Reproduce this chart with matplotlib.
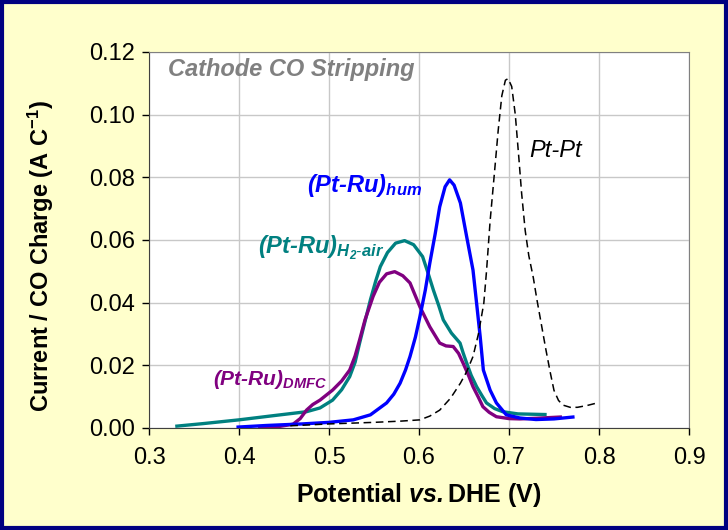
import matplotlib
matplotlib.use("Agg")
import matplotlib.pyplot as plt
from matplotlib.patches import Rectangle

plt.rcParams['font.family'] = ['Liberation Sans', 'DejaVu Sans']
plt.rcParams['mathtext.fontset'] = 'custom'
plt.rcParams['mathtext.rm'] = 'Liberation Sans'
plt.rcParams['mathtext.it'] = 'Liberation Sans:italic'
plt.rcParams['mathtext.bf'] = 'Liberation Sans:bold'
plt.rcParams['mathtext.bfit'] = 'Liberation Sans:italic:bold'

# Pt-Pt (dashed black)
ptpt_x = [0.457, 0.500, 0.550, 0.580, 0.601, 0.612, 0.623, 0.635, 0.646, 0.653, 0.660, 0.666,
          0.672, 0.675, 0.679, 0.684, 0.688, 0.692, 0.696, 0.699, 0.703, 0.707, 0.711, 0.714,
          0.718, 0.722, 0.727, 0.731, 0.736, 0.741, 0.746, 0.750, 0.755, 0.760, 0.768, 0.776,
          0.787, 0.798]
ptpt_y = [0.0007, 0.0013, 0.0018, 0.0022, 0.0026, 0.0038, 0.0057, 0.0095, 0.0143, 0.018, 0.0228, 0.030,
          0.0398, 0.050, 0.066, 0.082, 0.095, 0.106, 0.111, 0.1115, 0.109, 0.100, 0.086, 0.075,
          0.063, 0.055, 0.048, 0.041, 0.033, 0.025, 0.0175, 0.012, 0.0088, 0.0073, 0.0066, 0.0066,
          0.0072, 0.008]

# (Pt-Ru)hum (blue)
hum_x = [0.399, 0.430, 0.470, 0.500, 0.527, 0.546, 0.564, 0.572, 0.579, 0.585, 0.590, 0.596,
         0.601, 0.607, 0.612, 0.618, 0.623, 0.629, 0.634, 0.639, 0.646, 0.653, 0.660, 0.664,
         0.668, 0.6715, 0.679, 0.686, 0.697, 0.712, 0.730, 0.750, 0.771]
hum_y = [0.0003, 0.0008, 0.0013, 0.0018, 0.0026, 0.0042, 0.0080, 0.0108, 0.0143, 0.0185, 0.0228, 0.029,
         0.0355, 0.044, 0.0526, 0.062, 0.0706, 0.077, 0.0792, 0.0775, 0.0718, 0.061, 0.0504, 0.0398,
         0.0291, 0.0185, 0.0121, 0.0080, 0.0042, 0.0032, 0.0027, 0.0029, 0.0035]

# (Pt-Ru)H2-air (teal)
air_x = [0.331, 0.360, 0.400, 0.440, 0.475, 0.490, 0.504, 0.514, 0.523, 0.529, 0.534, 0.540,
         0.546, 0.552, 0.557, 0.565, 0.574, 0.584, 0.594, 0.604, 0.610, 0.616, 0.622, 0.627,
         0.636, 0.6456, 0.649, 0.653, 0.658, 0.664, 0.670, 0.675, 0.684, 0.693, 0.710, 0.740]
air_y = [0.0006, 0.0014, 0.0026, 0.0040, 0.0052, 0.0064, 0.0089, 0.0122, 0.0164, 0.021, 0.0271, 0.034,
         0.0409, 0.047, 0.0515, 0.056, 0.0590, 0.0598, 0.0585, 0.0547, 0.0495, 0.044, 0.039, 0.0345,
         0.0303, 0.0271, 0.024, 0.0207, 0.0168, 0.0132, 0.0103, 0.0080, 0.0062, 0.0052, 0.0045, 0.0043]

# (Pt-Ru)DMFC (purple)
dmfc_x = [0.423, 0.445, 0.460, 0.468, 0.475, 0.482, 0.490, 0.504, 0.514, 0.523, 0.529, 0.534,
          0.540, 0.549, 0.556, 0.564, 0.573, 0.582, 0.590, 0.601, 0.612, 0.623, 0.630, 0.638,
          0.644, 0.649, 0.655, 0.660, 0.666, 0.671, 0.678, 0.686, 0.700, 0.712, 0.730, 0.757]
dmfc_y = [0.0003, 0.0005, 0.0012, 0.0030, 0.0057, 0.0075, 0.0089, 0.0121, 0.0150, 0.0185, 0.023, 0.0281,
          0.0345, 0.042, 0.0465, 0.0492, 0.0499, 0.0486, 0.0463, 0.0387, 0.0323, 0.0271, 0.0262, 0.026,
          0.0238, 0.0207, 0.0168, 0.0132, 0.0098, 0.0068, 0.0050, 0.0036, 0.0030, 0.0029, 0.0031, 0.0035]

xticks = [0.3, 0.4, 0.5, 0.6, 0.7, 0.8, 0.9]
yticks = [0.00, 0.02, 0.04, 0.06, 0.08, 0.10, 0.12]

fig = plt.figure(figsize=(7.28, 5.30), dpi=100, facecolor='#FFFFCC')
fig.patches.append(Rectangle((0.003, 0.004), 0.994, 0.992, transform=fig.transFigure,
                             fill=False, edgecolor='#000080', linewidth=3))

ax = fig.add_axes([149/728, 102/530, 540/728, 376/530])
ax.set_facecolor('white')

ax.plot(air_x, air_y, color='#008080', lw=2.4, zorder=3, solid_joinstyle='round')
ax.plot(dmfc_x, dmfc_y, color='#800080', lw=2.4, zorder=4, solid_joinstyle='round')
ax.plot(hum_x, hum_y, color='#0000FF', lw=2.4, zorder=5, solid_joinstyle='round')
ax.plot(ptpt_x, ptpt_y, color='black', lw=1.1, ls=(0, (5, 3)), zorder=6)

ax.set_xlim(0.3, 0.9)
ax.set_ylim(0, 0.12)
ax.set_xticks(xticks)
ax.set_yticks(yticks)
ax.set_xticklabels([f"{v:.1f}" for v in xticks], fontsize=17)
ax.set_yticklabels([f"{v:.2f}" for v in yticks], fontsize=17)
ax.tick_params(axis='both', direction='out', length=5, width=1, pad=5)
ax.tick_params(axis='x', pad=9)
ax.grid(True, color='#C8C8C8', lw=1)
ax.set_axisbelow(True)
for s in ['top', 'right']:
    ax.spines[s].set_color('#808080')
for s in ['left', 'bottom']:
    ax.spines[s].set_color('#404040')

ax.set_xlabel(r"Potential $\mathbfit{vs.}$DHE (V)", fontsize=18, fontweight='bold', labelpad=8)
ax.set_ylabel(r"Current / CO Charge (A C$^{\mathbf{-1}}$)", fontsize=17, fontweight='bold')
ax.yaxis.set_label_coords(-0.172, 0.457)

ax.text(0.321, 0.1145, "Cathode CO Stripping", color='#808080', fontsize=17,
        fontweight='bold', style='italic', ha='left', va='center')
ax.text(0.4756, 0.0775, r"(Pt-Ru)$_{\mathbfit{hum}}$", color='#0000FF', fontsize=17,
        fontweight='bold', style='italic', ha='left', va='center')
ax.text(0.421, 0.0575, r"(Pt-Ru)$_{\mathbfit{H_2\text{-}air}}$", color='#008080', fontsize=17,
        fontweight='bold', style='italic', ha='left', va='center')
ax.text(0.371, 0.0155, r"(Pt-Ru)$_{\mathbfit{DMFC}}$", color='#800080', fontsize=15,
        fontweight='bold', style='italic', ha='left', va='center')
ax.text(0.723, 0.0885, "Pt-Pt", color='black', fontsize=17, style='italic', ha='left', va='center')

fig.savefig("out.png", dpi=100, facecolor=fig.get_facecolor())
